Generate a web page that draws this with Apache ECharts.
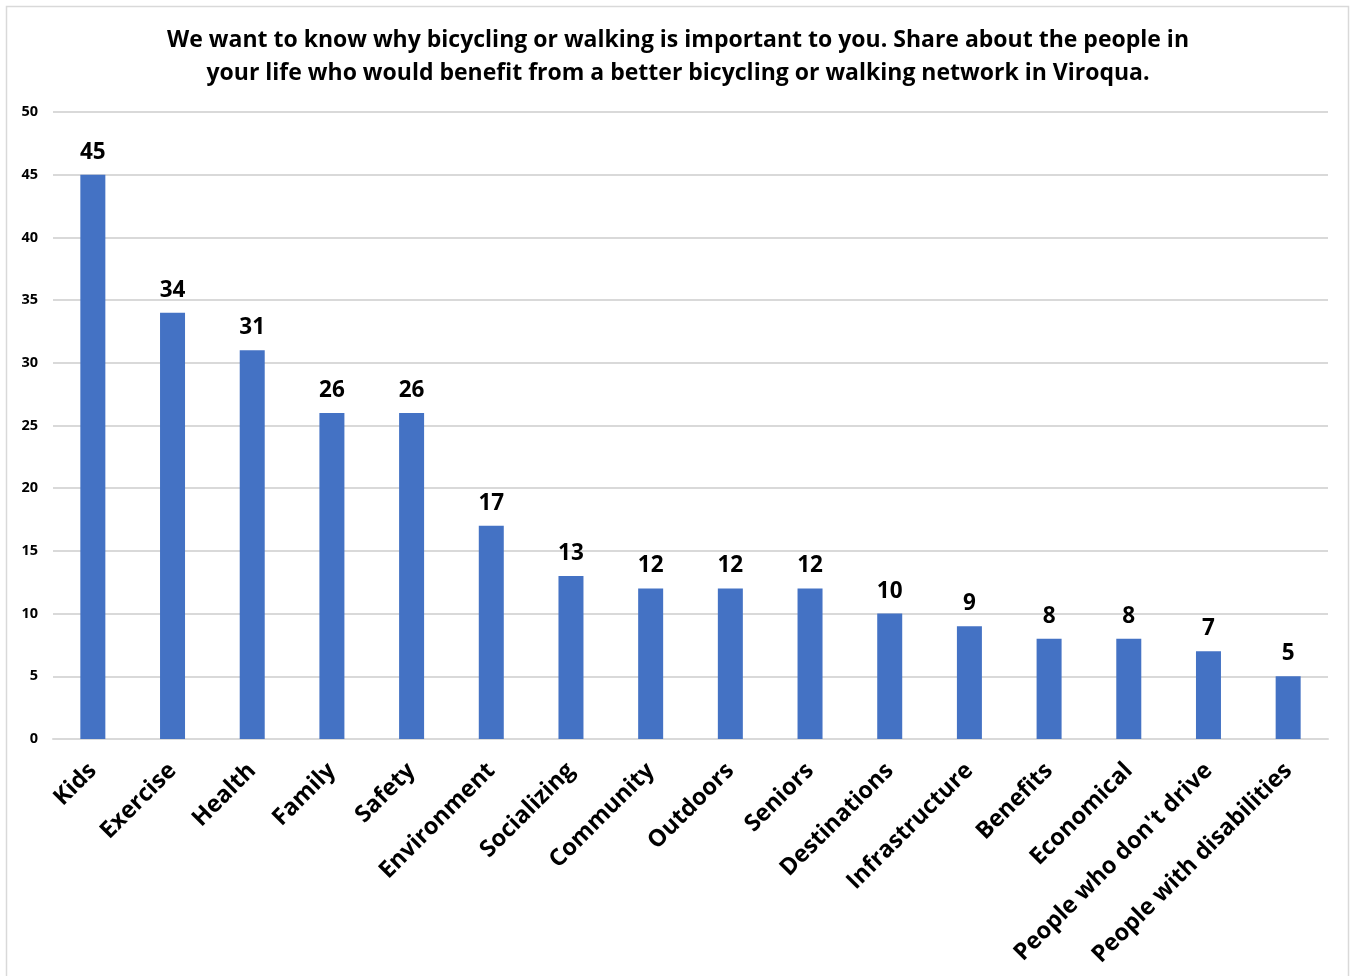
<!DOCTYPE html>
<html>
<head>
<meta charset="utf-8">
<script src="https://cdn.jsdelivr.net/npm/echarts@6/dist/echarts.min.js"></script>
<style>
  html, body { margin: 0; padding: 0; background: #ffffff; }
  #chart { width: 1351px; height: 976px; }
</style>
</head>
<body>
<div id="chart"></div>
<script>
// Survey responses: reasons bicycling or walking matters
const categories = [
  'Kids', 'Exercise', 'Health', 'Family', 'Safety', 'Environment',
  'Socializing', 'Community', 'Outdoors', 'Seniors', 'Destinations',
  'Infrastructure', 'Benefits', 'Economical', "People who don't drive",
  'People with disabilities'
];
const responses = [45, 34, 31, 26, 26, 17, 13, 12, 12, 12, 10, 9, 8, 8, 7, 5];
const titleText = 'We want to know why bicycling or walking is important to you. Share about the people in\nyour life who would benefit from a better bicycling or walking network in Viroqua.';

const FONT = 'Open Sans, Noto Sans, sans-serif';

const chart = echarts.init(document.getElementById('chart'));
chart.setOption({
  backgroundColor: '#ffffff',
  animation: false,
  title: {
    text: titleText,
    left: 673,
    top: 19,
    textAlign: 'center',
    textStyle: {
      fontFamily: FONT,
      fontWeight: 'bold',
      fontSize: 23,
      lineHeight: 33,
      color: '#000000'
    }
  },
  graphic: [{
    type: 'rect',
    shape: { x: 6.5, y: 6.5, width: 1342, height: 990 },
    style: { fill: 'none', stroke: '#d9d9d9', lineWidth: 1.5 },
    silent: true,
    z: -1
  }],
  grid: { left: 53, right: 23, top: 112, bottom: 237, containLabel: false },
  xAxis: {
    type: 'category',
    data: categories,
    axisLine: { show: true, lineStyle: { color: '#d9d9d9', width: 2 } },
    axisTick: { show: false },
    axisLabel: {
      interval: 0,
      rotate: 45,
      margin: 28,
      fontFamily: FONT,
      fontWeight: 'bold',
      fontSize: 23.5,
      color: '#000000'
    }
  },
  yAxis: {
    type: 'value',
    min: 0,
    max: 50,
    interval: 5,
    axisLine: { show: false },
    axisTick: { show: false },
    splitLine: { lineStyle: { color: '#d9d9d9', width: 2 } },
    axisLabel: {
      margin: 15,
      fontFamily: FONT,
      fontWeight: 'bold',
      fontSize: 14.5,
      color: '#000000'
    }
  },
  series: [{
    type: 'bar',
    data: responses,
    barWidth: 25,
    itemStyle: { color: '#4472c4' },
    label: {
      show: true,
      position: 'top',
      distance: 11,
      fontFamily: FONT,
      fontWeight: 'bold',
      fontSize: 22.5,
      color: '#000000'
    }
  }]
});
</script>
</body>
</html>
